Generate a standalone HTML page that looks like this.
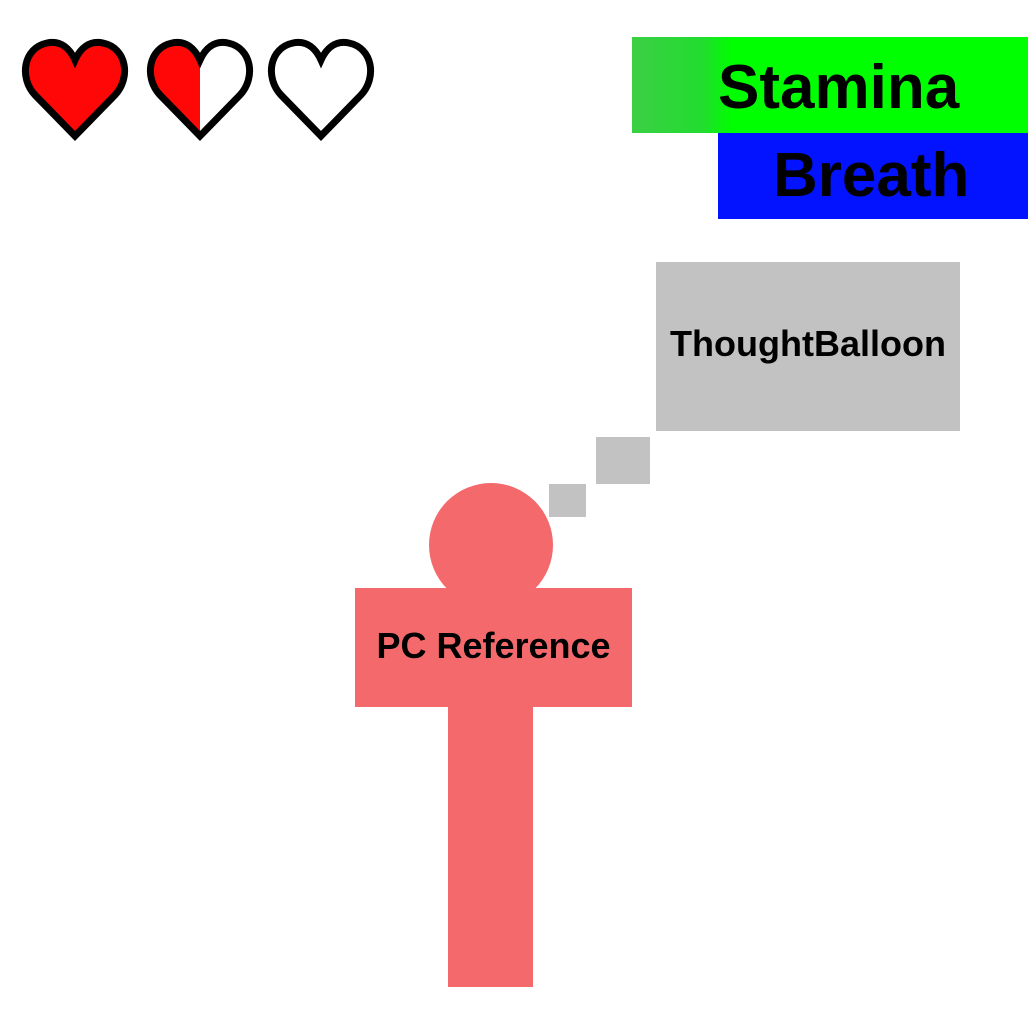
<!DOCTYPE html>
<html><head><style>
body{margin:0;width:1028px;height:1028px;background:#fff;position:relative;overflow:hidden;font-family:"Liberation Sans",sans-serif;font-weight:bold;}
.a{position:absolute;}
</style></head><body>
<svg class="a" style="left:0;top:0" width="1028" height="1028">
<g transform="translate(25,40)">
<path d="M50,96 L10,55 C-6,38 -2,8 22,3 C36,0 45,9 50,20 C55,9 64,0 78,3 C102,8 106,38 90,55 Z" fill="#ff0707" stroke="#000" stroke-width="7"/>
</g>
<g transform="translate(150,40)">
<path d="M50,96 L10,55 C-6,38 -2,8 22,3 C36,0 45,9 50,20 L50,96 Z" fill="#ff0707"/>
<path d="M50,96 L10,55 C-6,38 -2,8 22,3 C36,0 45,9 50,20 C55,9 64,0 78,3 C102,8 106,38 90,55 Z" fill="none" stroke="#000" stroke-width="7"/>
</g>
<g transform="translate(271,40)">
<path d="M50,96 L10,55 C-6,38 -2,8 22,3 C36,0 45,9 50,20 C55,9 64,0 78,3 C102,8 106,38 90,55 Z" fill="none" stroke="#000" stroke-width="7"/>
</g>
<rect x="656" y="262" width="304" height="169" fill="#c2c2c2"/>
<rect x="596" y="437" width="54" height="47" fill="#c2c2c2"/>
<rect x="549" y="484" width="37" height="33" fill="#c2c2c2"/>
<circle cx="491" cy="545" r="62" fill="#f4696b"/>
<rect x="355" y="588" width="277" height="119" fill="#f4696b"/>
<rect x="448" y="706" width="85" height="281" fill="#f4696b"/>
</svg>
<div class="a" style="left:632px;top:37px;width:396px;height:96px;background:linear-gradient(to right,#3ccf45 0px,#22dc30 70px,#00ff00 100px,#00ff00 100%);"></div>
<div class="a" style="left:718px;top:133px;width:310px;height:86px;background:#0313ff;"></div>
<div class="a" style="left:718px;top:53px;font-size:62px;line-height:70px;">Stamina</div>
<div class="a" style="left:773px;top:141px;font-size:62px;line-height:70px;">Breath</div>
<div class="a" style="left:656px;top:322px;width:304px;text-align:center;font-size:36px;line-height:44px;">ThoughtBalloon</div>
<div class="a" style="left:355px;top:624px;width:277px;text-align:center;font-size:36px;line-height:44px;">PC Reference</div>
</body></html>
